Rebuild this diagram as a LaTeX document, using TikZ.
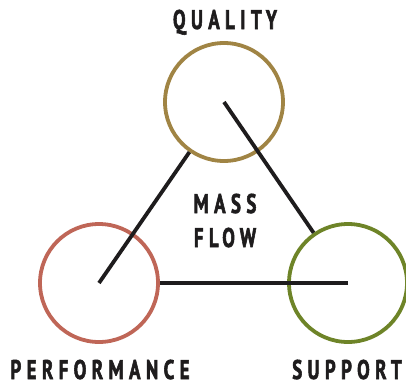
\documentclass[tikz,border=0pt]{standalone}
\usepackage{fontspec}
\newfontfamily\labfont[FakeStretch=0.7,LetterSpace=20,FakeBold=2]{PT Sans Bold}
\definecolor{qcol}{HTML}{A08444}
\definecolor{pcol}{HTML}{BF6657}
\definecolor{scol}{HTML}{6E8428}
\definecolor{ink}{HTML}{1E1C1D}
\begin{document}
\begin{tikzpicture}[x=1pt,y=-1pt,
  ring/.style={circle,draw=#1,line width=3.8pt,minimum size=118pt,inner sep=0pt},
  conn/.style={draw=ink,line width=3.8pt},
  lab/.style={font=\labfont\fontsize{27}{30}\selectfont,text=ink,inner sep=0pt,anchor=base}]
\useasboundingbox (0,0) rectangle (406,383);
\node[ring=qcol] (q) at (224,102) {};
\node[ring=pcol] (p) at (99,283) {};
\node[ring=scol] (s) at (348,283) {};
\draw[conn] (q.center) -- (s);
\draw[conn] (p.center) -- (q);
\draw[conn] (s.center) -- (p);
\node[lab] (tq) at (225,29) {QUALITY};
\node[lab] (tp) at (100,379) {PERFORMANCE};
\node[lab] (ts) at (347,379) {SUPPORT};
\node[lab] (tm) at (225,213) {MASS};
\node[lab] (tf) at (225,247) {FLOW};
\end{tikzpicture}
\end{document}
